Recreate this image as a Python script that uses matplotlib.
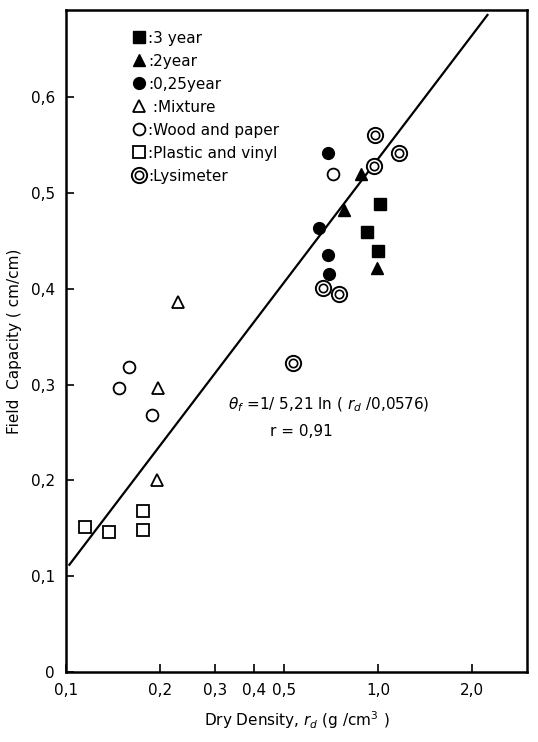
import matplotlib.pyplot as plt
from matplotlib.legend_handler import HandlerTuple

# =============================================================
# Dados
# =============================================================

yr3_x = [1.017, 0.922, 1.000]
yr3_y = [0.489, 0.459, 0.440]

yr2_x = [0.878, 0.776, 0.993]
yr2_y = [0.520, 0.482, 0.422]

yr025_x = [0.690, 0.645, 0.692, 0.698]
yr025_y = [0.542, 0.464, 0.435, 0.416]

mix_x = [0.228, 0.197, 0.196]
mix_y = [0.386, 0.297, 0.200]

wood_x = [0.715, 0.159, 0.148, 0.188]
wood_y = [0.520, 0.318, 0.297, 0.268]

plastic_x = [0.115, 0.137, 0.176, 0.177]
plastic_y = [0.151, 0.146, 0.168, 0.148]

lysi_x = [0.980, 1.164, 0.973, 0.667, 0.748, 0.532]
lysi_y = [0.561, 0.542, 0.528, 0.401, 0.395, 0.323]

# reta de regressão (extremos)
fit_x = [0.1025, 2.24]
fit_y = [0.112, 0.686]

x_ticks = [0.1, 0.2, 0.3, 0.4, 0.5, 1.0, 2.0]
x_tick_labels = ["0,1", "0,2", "0,3", "0,4", "0,5", "1,0", "2,0"]
y_ticks = [0, 0.1, 0.2, 0.3, 0.4, 0.5, 0.6]
y_tick_labels = ["0", "0,1", "0,2", "0,3", "0,4", "0,5", "0,6"]

# =============================================================
# Gráfico
# =============================================================

plt.rcParams['font.family'] = ['DejaVu Sans']
fs = 11

fig = plt.figure(figsize=(5.38, 7.42), dpi=100)
ax = fig.add_axes([0.1227, 0.0943, 0.857, 0.892])

ax.plot(fit_x, fit_y, color='black', lw=1.6)

ms = 8.5
h3, = ax.plot(yr3_x, yr3_y, ls='none', marker='s', ms=8, color='black')
h2, = ax.plot(yr2_x, yr2_y, ls='none', marker='^', ms=ms, color='black')
h025, = ax.plot(yr025_x, yr025_y, ls='none', marker='o', ms=ms, color='black')
hmix, = ax.plot(mix_x, mix_y, ls='none', marker='^', ms=ms, mfc='white', mec='black', mew=1.3)
hwood, = ax.plot(wood_x, wood_y, ls='none', marker='o', ms=ms, mfc='white', mec='black', mew=1.3)
hpl, = ax.plot(plastic_x, plastic_y, ls='none', marker='s', ms=ms, mfc='white', mec='black', mew=1.3)
hly1, = ax.plot(lysi_x, lysi_y, ls='none', marker='o', ms=11, mfc='white', mec='black', mew=1.4)
hly2, = ax.plot(lysi_x, lysi_y, ls='none', marker='o', ms=6, mfc='white', mec='black', mew=1.2)

ax.set_xscale('log')
ax.set_xlim(0.1, 3.0)
ax.set_ylim(0, 0.691)
ax.minorticks_off()
ax.set_xticks(x_ticks)
ax.set_xticklabels(x_tick_labels, fontsize=fs)
ax.set_yticks(y_ticks)
ax.set_yticklabels(y_tick_labels, fontsize=fs)
ax.tick_params(direction='in', length=6, width=1.2, pad=8)
for s in ax.spines.values():
    s.set_linewidth(1.8)

ax.set_xlabel(r"Dry Density, $r_d$ (g /cm$^3$ )", fontsize=fs, labelpad=8)
ax.set_ylabel("Field  Capacity ( cm/cm)", fontsize=fs, labelpad=6)

ax.text(0.351, 0.403, r"$\theta_f$ =1/ 5,21 ln ( $r_d$ /0,0576)", transform=ax.transAxes,
        fontsize=fs, va='center')
ax.text(0.443, 0.363, "r = 0,91", transform=ax.transAxes, fontsize=fs, va='center')

handles = [h3, h2, h025, hmix, hwood, hpl, (hly1, hly2)]
labels = [':3 year', ':2year', ':0,25year', ' :Mixture', ':Wood and paper',
          ':Plastic and vinyl', ':Lysimeter']
ax.legend(handles, labels, loc='upper left', bbox_to_anchor=(0.13, 0.978), frameon=False,
          fontsize=fs, handlelength=0.9, handletextpad=0.15, labelspacing=0.52,
          borderaxespad=0, handler_map={tuple: HandlerTuple(ndivide=1, pad=0)})

fig.savefig("out.png", dpi=100)
